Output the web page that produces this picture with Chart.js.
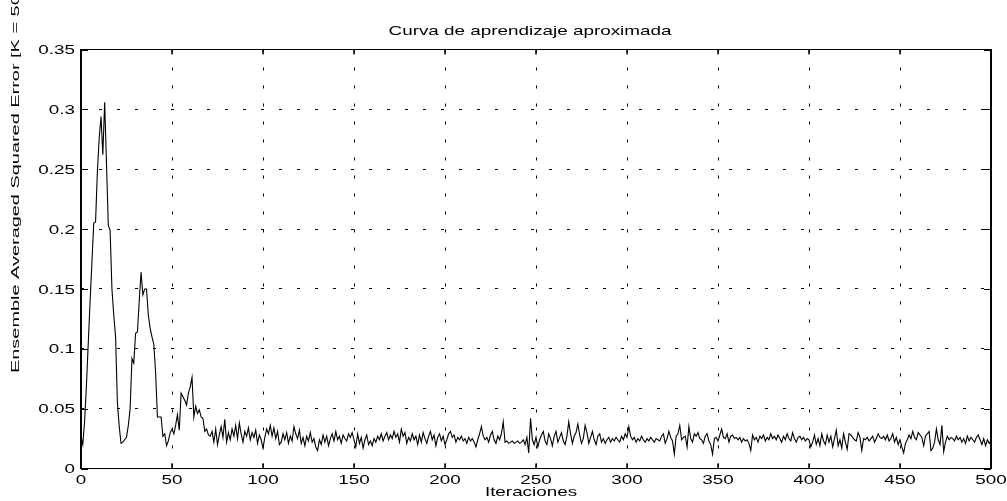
<!DOCTYPE html>
<html><head><meta charset="utf-8">
<script src="https://cdn.jsdelivr.net/npm/chart.js@4.4.1/dist/chart.umd.min.js"></script>
<style>html,body{margin:0;padding:0;background:#fff;}canvas{display:block;}</style>
</head><body>
<canvas id="c" width="1007" height="501"></canvas>
<script>
const titleText = 'Curva de aprendizaje aproximada';
const xTitleText = 'Iteraciones';
const yTitleText = 'Ensemble Averaged Squared Error [K = 50]';
const xTickLabels = ['0','50','100','150','200','250','300','350','400','450','500'];
const yTickLabels = ['0','0.05','0.1','0.15','0.2','0.25','0.3','0.35'];

// iterations 0..80
const errEarly = [
0.027,0.020,0.040,0.070,0.105,0.140,0.172,0.205,0.206,0.248,
0.276,0.294,0.262,0.306,0.255,0.203,0.199,0.150,0.128,0.110,
0.055,0.035,0.021,0.022,0.024,0.026,0.036,0.050,0.092,0.088,
0.113,0.114,0.140,0.164,0.145,0.150,0.150,0.128,0.117,0.110,
0.104,0.080,0.043,0.043,0.043,0.027,0.029,0.019,0.023,0.030,
0.033,0.029,0.036,0.045,0.032,0.063,0.060,0.057,0.053,0.063,
0.068,0.076,0.043,0.052,0.046,0.049,0.043,0.042,0.031,0.033,
0.028,0.027,0.031,0.022,0.033,0.020,0.028,0.035,0.026,0.041,
0.022
];
// iterations 81..300
const errMid = [
0.030,0.024,0.033,0.027,0.036,0.025,0.038,0.029,0.022,0.031,
0.027,0.034,0.024,0.030,0.026,0.032,0.021,0.028,0.024,0.017,
0.026,0.033,0.029,0.036,0.027,0.034,0.025,0.031,0.020,0.022,
0.029,0.024,0.030,0.021,0.027,0.023,0.035,0.029,0.025,0.032,
0.021,0.026,0.019,0.027,0.023,0.030,0.022,0.025,0.018,0.015,
0.024,0.020,0.028,0.022,0.027,0.019,0.025,0.029,0.023,0.031,
0.024,0.027,0.021,0.028,0.025,0.023,0.029,0.026,0.030,0.024,
0.018,0.029,0.021,0.026,0.017,0.024,0.028,0.020,0.023,0.019,
0.025,0.022,0.027,0.024,0.029,0.023,0.027,0.030,0.024,0.028,
0.025,0.031,0.026,0.029,0.022,0.033,0.027,0.030,0.021,0.026,
0.023,0.029,0.024,0.027,0.020,0.028,0.022,0.030,0.025,0.021,
0.027,0.031,0.024,0.028,0.019,0.026,0.029,0.023,0.027,0.020,
0.024,0.029,0.031,0.026,0.028,0.022,0.026,0.024,0.027,0.023,
0.025,0.021,0.026,0.023,0.025,0.022,0.018,0.024,0.029,0.035,
0.027,0.024,0.026,0.022,0.028,0.031,0.024,0.021,0.027,0.024,
0.029,0.039,0.022,0.023,0.021,0.022,0.023,0.021,0.022,0.023,
0.021,0.022,0.024,0.020,0.026,0.013,0.042,0.024,0.020,0.026,
0.018,0.024,0.028,0.031,0.023,0.020,0.029,0.025,0.019,0.027,
0.031,0.022,0.026,0.030,0.023,0.020,0.027,0.039,0.029,0.021,
0.027,0.030,0.037,0.028,0.021,0.025,0.036,0.030,0.021,0.026,
0.031,0.024,0.020,0.027,0.029,0.022,0.025,0.021,0.024,0.026,
0.022,0.025,0.023,0.026,0.024,0.022,0.027,0.024,0.029,0.026
];
// iterations 301..500
const errLate = [
0.035,0.027,0.024,0.026,0.022,0.025,0.023,0.027,0.024,0.022,
0.025,0.023,0.026,0.024,0.022,0.025,0.024,0.023,0.027,0.029,
0.021,0.025,0.031,0.026,0.023,0.012,0.027,0.029,0.036,0.024,
0.026,0.027,0.018,0.035,0.025,0.022,0.029,0.027,0.030,0.025,
0.024,0.021,0.027,0.029,0.023,0.020,0.012,0.025,0.026,0.023,
0.028,0.033,0.026,0.025,0.029,0.022,0.027,0.028,0.025,0.026,
0.024,0.026,0.022,0.025,0.023,0.024,0.021,0.015,0.028,0.024,
0.026,0.022,0.027,0.025,0.028,0.023,0.026,0.024,0.029,0.025,
0.027,0.024,0.028,0.025,0.022,0.027,0.024,0.029,0.025,0.023,
0.030,0.025,0.022,0.026,0.027,0.024,0.026,0.023,0.025,0.024,
0.018,0.022,0.028,0.020,0.025,0.019,0.029,0.023,0.020,0.028,
0.022,0.027,0.018,0.025,0.032,0.019,0.024,0.017,0.029,0.022,
0.016,0.029,0.028,0.026,0.024,0.023,0.030,0.026,0.015,0.025,
0.024,0.026,0.023,0.025,0.027,0.022,0.025,0.029,0.026,0.025,
0.027,0.024,0.028,0.023,0.025,0.029,0.022,0.026,0.020,0.024,
0.018,0.013,0.021,0.024,0.028,0.025,0.031,0.026,0.024,0.030,
0.028,0.026,0.019,0.027,0.029,0.031,0.015,0.017,0.022,0.033,
0.024,0.020,0.036,0.014,0.022,0.027,0.024,0.026,0.025,0.023,
0.027,0.024,0.026,0.022,0.025,0.021,0.027,0.023,0.026,0.024,
0.022,0.026,0.028,0.024,0.020,0.025,0.019,0.024,0.021,0.023
];
const errorValues = errEarly.concat(errMid, errLate);
const points = errorValues.map((v, i) => ({x: i, y: v}));

const FONT = '"Liberation Sans", Arial, Helvetica, sans-serif';
function drawText(ctx, str, x, y, size, sx, sy, align, rot) {
  ctx.save();
  ctx.translate(x, y);
  if (rot) ctx.rotate(rot);
  ctx.scale(sx, sy);
  ctx.font = size + 'px ' + FONT;
  ctx.textAlign = align;
  ctx.textBaseline = 'alphabetic';
  ctx.fillStyle = '#000';
  ctx.fillText(str, 0, 0);
  ctx.restore();
}

const matlabFrame = {
  id: 'matlabFrame',
  afterDraw(chart) {
    const ctx = chart.ctx, a = chart.chartArea, xs = chart.scales.x, ys = chart.scales.y;
    ctx.save();
    ctx.strokeStyle = '#000';
    ctx.lineWidth = 1;
    ctx.beginPath();
    ctx.moveTo(a.left, 49.5); ctx.lineTo(a.right, 49.5);
    ctx.moveTo(a.left, 468.5); ctx.lineTo(a.right, 468.5);
    ctx.stroke();
    ctx.lineWidth = 2;
    ctx.beginPath();
    ctx.moveTo(a.left, a.top - 0.5); ctx.lineTo(a.left, a.bottom + 0.5);
    ctx.moveTo(a.right, a.top - 0.5); ctx.lineTo(a.right, a.bottom + 0.5);
    ctx.stroke();
    ctx.lineWidth = 1.5;
    ctx.beginPath();
    xTickLabels.forEach(l => {
      const px = xs.getPixelForValue(parseFloat(l));
      ctx.moveTo(px, a.bottom); ctx.lineTo(px, a.bottom - 5);
      ctx.moveTo(px, a.top); ctx.lineTo(px, a.top + 5);
    });
    ctx.stroke();
    ctx.lineWidth = 1;
    ctx.beginPath();
    yTickLabels.forEach(l => {
      const py = Math.round(ys.getPixelForValue(parseFloat(l))) + 0.5;
      ctx.moveTo(a.left, py); ctx.lineTo(a.left + 7, py);
      ctx.moveTo(a.right, py); ctx.lineTo(a.right - 7, py);
    });
    ctx.stroke();
    ctx.restore();
    yTickLabels.forEach(l => {
      drawText(ctx, l, 75, ys.getPixelForValue(parseFloat(l)) + 4.7, 13, 1.45, 1, 'right');
    });
    xTickLabels.forEach(l => {
      drawText(ctx, l, xs.getPixelForValue(parseFloat(l)), 483.5, 13, 1.45, 1, 'center');
    });
    drawText(ctx, titleText, 530, 34.5, 13, 1.45, 1, 'center');
    drawText(ctx, xTitleText, 531, 496, 13, 1.45, 1, 'center');
    drawText(ctx, yTitleText, 18.5, 373, 11, 1.81, 1, 'left', -Math.PI / 2);
  }
};

new Chart(document.getElementById('c'), {
  type: 'line',
  data: {
    datasets: [{
      data: points,
      borderColor: '#000',
      borderWidth: 1.1,
      pointRadius: 0,
      tension: 0,
      fill: false
    }]
  },
  options: {
    responsive: false,
    animation: false,
    devicePixelRatio: 1,
    layout: {padding: {left: 81, right: 16, top: 49.5, bottom: 32.5}},
    plugins: {legend: {display: false}, tooltip: {enabled: false}, title: {display: false}},
    scales: {
      x: {
        type: 'linear', min: 0, max: 500,
        ticks: {display: false, stepSize: 50},
        grid: {color: '#000', lineWidth: 1, drawTicks: false},
        border: {display: false, dash: [3, 15]},
        afterFit: s => { s.height = 0; }
      },
      y: {
        type: 'linear', min: 0, max: 0.35,
        ticks: {display: false, stepSize: 0.05},
        grid: {color: '#000', lineWidth: 1, drawTicks: false},
        border: {display: false, dash: [3, 15]},
        afterFit: s => { s.width = 0; }
      }
    }
  },
  plugins: [matlabFrame]
});
</script>
</body></html>
